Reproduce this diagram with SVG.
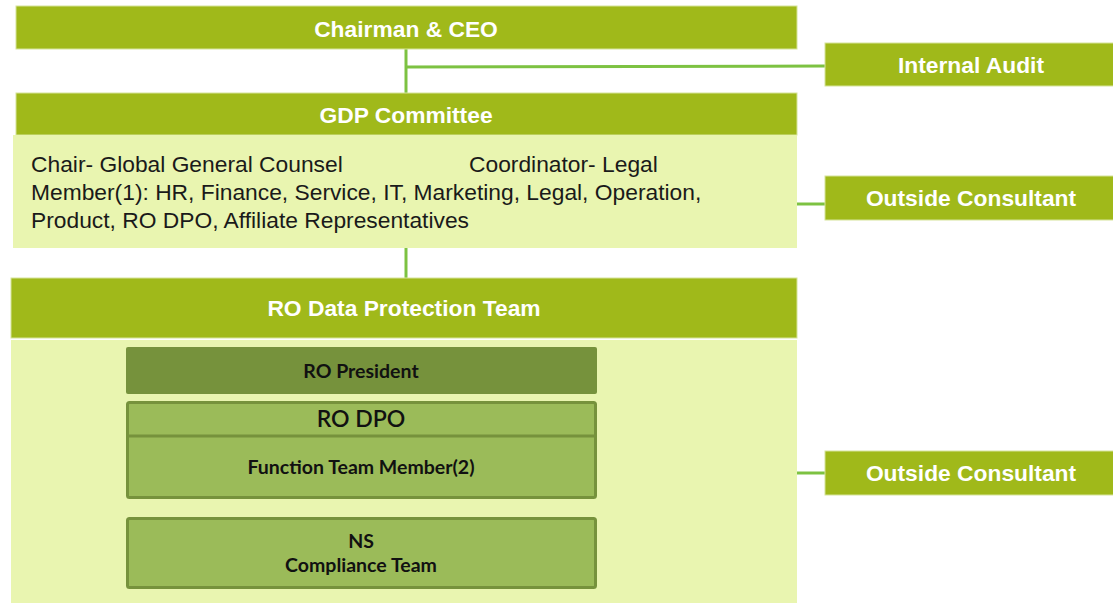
<svg xmlns="http://www.w3.org/2000/svg" width="1113" height="605" viewBox="0 0 1113 605">
<style>
.hdr{fill:#a0b91a;stroke:#d6e49a;stroke-width:1}
.light{fill:#e9f5b0}
.ht{font-family:"Liberation Sans",Arial,sans-serif;font-weight:bold;font-size:22.8px;fill:#ffffff;text-anchor:middle}
.bt{font-family:"Liberation Sans",Arial,sans-serif;font-size:22.8px;fill:#1a1a1a}
.ct{font-family:Lato,"Open Sans",sans-serif;font-weight:bold;fill:#111111;text-anchor:middle;font-size:19.5px}
.inner{fill:#9bbb59;stroke:#76923c;stroke-width:3}
.conn{stroke:#7dc242;stroke-width:3;fill:none}
</style>
<rect width="1113" height="605" fill="#ffffff"/>
<g id="connectors">
<line class="conn" x1="406" y1="49" x2="406" y2="93"/>
<line class="conn" x1="406" y1="67" x2="825" y2="66"/>
<line class="conn" x1="797" y1="204" x2="825" y2="204"/>
<line class="conn" x1="406" y1="248" x2="406" y2="278"/>
<line class="conn" x1="797" y1="473" x2="825" y2="473"/>
<line stroke="#7dc242" stroke-width="3" x1="230" y1="394" x2="230" y2="402"/>
</g>
<g id="chairman">
<rect class="hdr" x="16" y="6" width="781" height="43"/>
<text class="ht" x="406" y="37">Chairman &amp; CEO</text>
</g>
<g id="internal-audit">
<rect class="hdr" x="825" y="43" width="290" height="43"/>
<text class="ht" x="971" y="73">Internal Audit</text>
</g>
<g id="gdp-committee">
<rect class="hdr" x="16" y="93" width="781" height="42"/>
<text class="ht" x="406" y="123">GDP Committee</text>
<rect class="light" x="13" y="135" width="784" height="113"/>
<text class="bt" x="31" y="172">Chair- Global General Counsel</text>
<text class="bt" x="469" y="172">Coordinator- Legal</text>
<text class="bt" x="31" y="200">Member(1): HR, Finance, Service, IT, Marketing, Legal, Operation,</text>
<text class="bt" x="31" y="228">Product, RO DPO, Affiliate Representatives</text>
</g>
<g id="outside-consultant-1">
<rect class="hdr" x="825" y="176" width="290" height="44"/>
<text class="ht" x="971" y="206">Outside Consultant</text>
</g>
<g id="ro-data-protection-team">
<rect class="hdr" x="11" y="278" width="786" height="60"/>
<text class="ht" x="404" y="316">RO Data Protection Team</text>
<rect class="light" x="11" y="340" width="786" height="263"/>
</g>
<g id="ro-president">
<rect x="126" y="347" width="471" height="47" rx="2" fill="#76923c"/>
<text class="ct" x="361" y="378">RO President</text>
</g>
<g id="ro-dpo">
<rect class="inner" x="127.5" y="402.5" width="468" height="95" rx="2"/>
<line x1="127" y1="436" x2="596" y2="436" stroke="#76923c" stroke-width="3"/>
<text class="ct" x="361" y="427" style="font-size:23px;font-weight:600">RO DPO</text>
<text class="ct" x="361" y="474">Function Team Member(2)</text>
</g>
<g id="ns-compliance">
<rect class="inner" x="127.5" y="518.5" width="468" height="69" rx="2"/>
<text class="ct" x="361" y="548">NS</text>
<text class="ct" x="361" y="572">Compliance Team</text>
</g>
<g id="outside-consultant-2">
<rect class="hdr" x="825" y="451" width="290" height="44"/>
<text class="ht" x="971" y="481">Outside Consultant</text>
</g>
</svg>
